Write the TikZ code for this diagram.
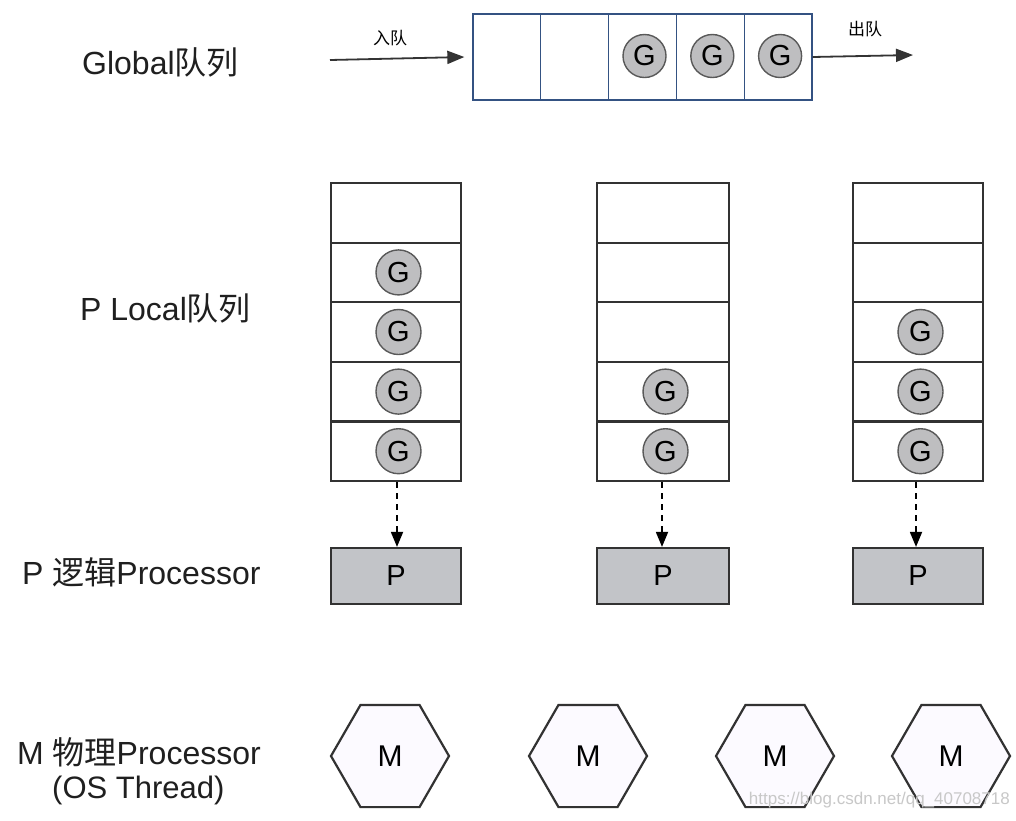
\documentclass[tikz,border=0pt]{standalone}
\usepackage{fontspec}
\setmainfont{Liberation Sans}
\newfontfamily\cjk{Noto Sans CJK SC}
\usetikzlibrary{shapes.geometric,arrows.meta}
\definecolor{qblue}{RGB}{52,82,130}
\definecolor{gfill}{RGB}{190,190,192}
\definecolor{pfill}{RGB}{194,196,200}
\definecolor{hfill}{RGB}{252,250,255}
\definecolor{edge}{RGB}{50,50,50}
\definecolor{wm}{RGB}{200,200,200}
\tikzset{
  sidelabel/.style={anchor=west,font=\fontsize{32}{35}\selectfont,text=black!88,inner sep=0},
  gcell/.style={draw=qblue,line width=1.3pt,minimum width=67.8pt,minimum height=86pt,inner sep=0},
  lcell/.style={draw=edge,line width=2.2pt,minimum height=59.6pt,inner sep=0},
  gball/.style={circle,draw=black!65,line width=1.4pt,fill=gfill,minimum size=45pt,inner sep=0,font=\fontsize{29}{30}\selectfont},
  pbox/.style={draw=edge,line width=2.2pt,fill=pfill,minimum height=56pt,inner sep=0,font=\fontsize{29}{30}\selectfont},
  mhex/.style={regular polygon,regular polygon sides=6,draw=edge,line width=2.2pt,fill=hfill,minimum size=118pt,inner sep=0,font=\fontsize{30}{31}\selectfont},
  qarrow/.style={-{Triangle[length=17pt,width=13pt]},line width=1.8pt,draw=black!80},
  darrow/.style={-{Triangle[length=15pt,width=12pt]},line width=1.8pt,dash pattern=on 6pt off 5pt},
  smalltext/.style={font=\fontsize{17}{19}\selectfont\cjk,inner sep=0}
}
\begin{document}
\begin{tikzpicture}[x=1pt,y=-1pt]
\path[use as bounding box,fill=white] (0,0) rectangle (1016,820);

% side labels
\node[sidelabel] (lglobal) at (82,62) {Global{\cjk 队列}};
\node[sidelabel] (llocal) at (80,308) {P Local{\cjk 队列}};
\node[sidelabel] (lp) at (22,572) {P {\cjk 逻辑}Processor};
\node[sidelabel] (lm) at (17,752) {M {\cjk 物理}Processor};
\node[sidelabel,font=\fontsize{31}{34}\selectfont] (los) at (52,790) {(OS Thread)};

% global queue
\foreach \i/\x in {1/506.9,2/574.7,3/642.5,4/710.3,5/778.1}{
  \node[gcell] (gq\i) at (\x,57) {};
}
\foreach \i in {3,4,5}{
  \node[gball,minimum size=43pt] (gg\i) at ([xshift=2pt,yshift=1pt]gq\i.center) {G};
}
\coordinate (inA) at (330,60);
\coordinate (outB) at (913,55);
\draw[qarrow] (inA) -- ([xshift=-8pt]gq1.west);
\draw[qarrow] (gq5.east) -- (outB);
\node[smalltext] (lin) at (390,38) {入队};
\node[smalltext] (lout) at (865,29) {出队};

% local queues
\foreach \c/\x/\w in {1/396/130,2/663/132,3/918/130}{
  \foreach \r/\y in {a/212.8,b/272.4,c/332,d/391.6,e/451.2}{
    \node[lcell,minimum width=\w pt] (lq\c\r) at (\x,\y) {};
  }
  \node[pbox,minimum width=\w pt] (p\c) at (\x,576) {P};
}
\foreach \n in {1b,1c,1d,1e,2d,2e,3c,3d,3e}{
  \node[gball] (g\n) at ([xshift=2.5pt]lq\n.center) {G};
}
\draw[darrow] ([xshift=1pt]lq1e.south) -- ([xshift=1pt]p1.north);
\draw[darrow] ([xshift=-1pt]lq2e.south) -- ([xshift=-1pt]p2.north);
\draw[darrow] ([xshift=-2pt]lq3e.south) -- ([xshift=-2pt]p3.north);

% M hexagons
\foreach \i/\x in {1/390,2/588,3/775,4/951}{
  \node[mhex] (m\i) at (\x,756) {M};
}

% watermark
\node[font=\fontsize{17}{19}\selectfont,text=wm,anchor=east,inner sep=0] (wmk) at (1010,800) {https://blog.csdn.net/qq\_40708718};
\end{tikzpicture}
\end{document}
